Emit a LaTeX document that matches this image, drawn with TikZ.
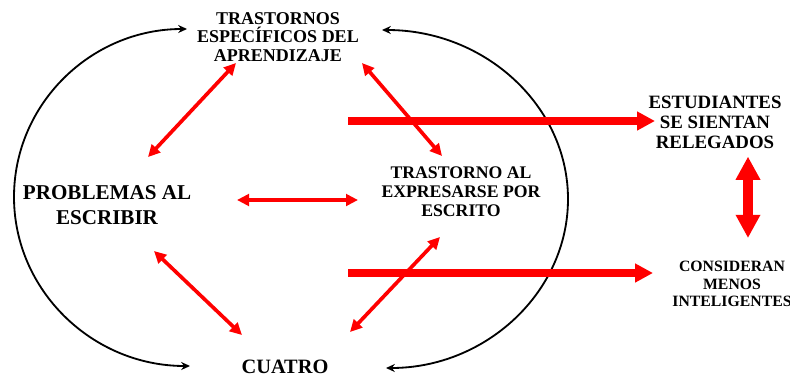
\documentclass[tikz,border=0pt]{standalone}
\usepackage{fontspec}
\setmainfont{Liberation Serif}
\usetikzlibrary{arrows.meta}

\begin{document}
\begin{tikzpicture}[x=0.025cm, y=-0.025cm,
    every node/.style={align=center, inner sep=0pt},
    relacion/.style={red, line width=2.6pt,
        {Triangle[length=0.3cm,width=0.29cm]}-{Triangle[length=0.3cm,width=0.29cm]}},
    ciclo/.style={black, line width=1.3pt,
        {Stealth[length=0.22cm,width=0.2cm]}-{Stealth[length=0.22cm,width=0.2cm]}},
    efecto/.style={red, line width=0.2cm, -{Triangle[length=0.45cm,width=0.45cm]}},
    mutuo/.style={red, line width=0.25cm,
        {Triangle[length=0.58cm,width=0.58cm]}-{Triangle[length=0.58cm,width=0.58cm]}}]

\useasboundingbox (0,0) rectangle (790,377);

\node[font=\bfseries\fontsize{12.8}{13.2}\selectfont] (trastornos) at (278,37) {TRASTORNOS\\ESPECÍFICOS DEL\\APRENDIZAJE};
\node[font=\bfseries\fontsize{15}{17.5}\selectfont] (problemas) at (107,205) {PROBLEMAS AL\\ESCRIBIR};
\node[font=\bfseries\fontsize{12.6}{13.6}\selectfont] (expresarse) at (461,192) {TRASTORNO AL\\EXPRESARSE POR\\ESCRITO};
\node[font=\bfseries\fontsize{14.5}{16}\selectfont] (cuatro) at (285,367) {CUATRO};
\node[font=\bfseries\fontsize{13.4}{14.2}\selectfont] (relegados) at (715,122) {ESTUDIANTES\\SE SIENTAN\\RELEGADOS};
\node[font=\bfseries\fontsize{11.2}{12.2}\selectfont] (inteligentes) at (732,284) {CONSIDERAN\\MENOS\\INTELIGENTES};

% ciclo
\coordinate (lt) at (187,29);
\coordinate (lb) at (190,366);
\coordinate (rt) at (382,30);
\coordinate (rb) at (386,368);
\draw[ciclo] (lt) .. controls (91,29) and (14,104) .. (14,197) .. controls (14,290) and (92,366) .. (lb);
\draw[ciclo] (rt) .. controls (485,30) and (568,106) .. (568,199) .. controls (568,292) and (486,368) .. (rb);

% relaciones
\coordinate (a1) at (148,157); \coordinate (b1) at (236,63);
\coordinate (a2) at (362,63);  \coordinate (b2) at (442,156);
\coordinate (a3) at (237,200); \coordinate (b3) at (358,200);
\coordinate (a4) at (154,251); \coordinate (b4) at (242,335);
\coordinate (a5) at (350,332); \coordinate (b5) at (440,237);
\draw[relacion] (a1) -- (b1);
\draw[relacion] (a2) -- (b2);
\draw[relacion] (a3) -- (b3);
\draw[relacion] (a4) -- (b4);
\draw[relacion] (a5) -- (b5);

% efectos
\coordinate (e1) at (348,121);
\coordinate (e2) at (348,273);
\draw[efecto] (e1) -- (655,121);
\draw[efecto] (e2) -- (653,273);
\draw[mutuo] (relegados.south -| 748,0) ++(0,8) -- (748,238);

\end{tikzpicture}
\end{document}
